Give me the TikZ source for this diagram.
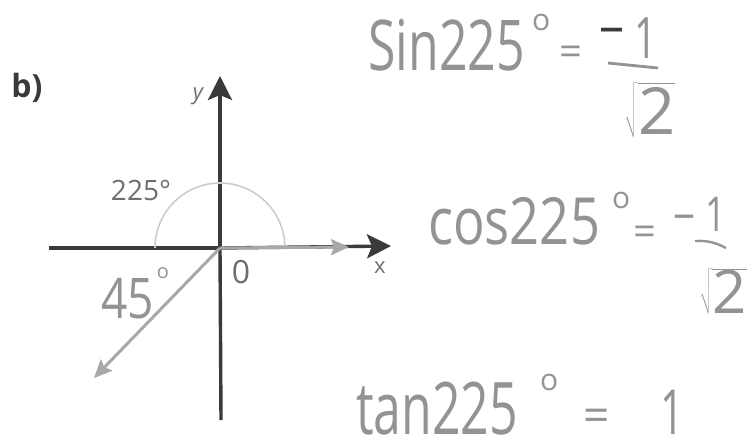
\documentclass[tikz,border=0pt]{standalone}
\usepackage{fontspec}
\usepackage{graphicx}
\setmainfont{Open Sans}
\usetikzlibrary{arrows.meta}
\definecolor{axisc}{HTML}{3A3A3A}
\definecolor{rayc}{HTML}{A8A8A8}
\definecolor{arcc}{HTML}{CDCDCD}
\definecolor{hwc}{HTML}{939393}
\definecolor{lblc}{HTML}{6E6E6E}
\begin{document}
\begin{tikzpicture}[x=1pt,y=-1pt,
  axisline/.style={draw=axisc,line width=3.4pt},
  axis/.style={axisline,-{Stealth[length=24pt,width=24pt,inset=5pt]}},
  ray/.style={draw=rayc,line width=3pt,-{Stealth[length=18pt,width=16pt,inset=3pt]}},
  lbl/.style={text=lblc,inner sep=0pt,font=\fontsize{24}{26}\selectfont},
  hw/.style={text=hwc,inner sep=0pt,anchor=base west,font=\fontsize{50}{52}\selectfont},
  hwc/.style={text=hwc,inner sep=0pt},
  hwsm/.style={text=hwc,inner sep=0pt,font=\fontsize{40}{42}\selectfont}]
\useasboundingbox[fill=white] (0,0) rectangle (753,442);
% axes
\coordinate (O) at (220,248);
\coordinate (yt) at (220,76);
\coordinate (yb) at (221,420);
\coordinate (xl) at (49,248);
\coordinate (xr) at (391,246);
\coordinate (gx) at (349,247);
\coordinate (rt) at (94,378);
\draw[axisline] (O) -- (yb);
\draw[axis] (O) -- (yt);
\draw[axisline] (xl) -- (O);
\draw[axis] (O) -- (xr);
\draw[draw=arcc,line width=1.6pt] (O) ++(-65,0) arc[start angle=180,end angle=360,radius=65];
\draw[ray] (O) -- (gx);
\draw[ray] (O) -- (rt);
% labels
\node[font=\bfseries\fontsize{32}{34}\selectfont,text=axisc,inner sep=0pt] (b) at (27,88) {b)};
\node[lbl,font=\itshape\fontsize{22}{24}\selectfont] (ly) at (198,96) {y};
\node[lbl,font=\fontsize{22}{24}\selectfont] (lx) at (380,268) {x};
\node[lbl,font=\fontsize{32}{34}\selectfont] (l0) at (241,272) {0};
\node[lbl,font=\fontsize{28}{30}\selectfont] (l225) at (141,190) {225°};
\node[hwsm,anchor=base west] (l45) at (101,318) {\scalebox{1.15}[1.4]{45}};
\node[hwc,font=\fontsize{20}{20}\selectfont] (l45d) at (163,273) {o};
% sin
\node[hw] (sin) at (368,70) {\scalebox{1}[1.4]{Sin225}};
\node[hw,font=\fontsize{30}{30}\selectfont] (sdeg) at (532,30) {o};
\node[hwc,font=\fontsize{40}{40}\selectfont] (seq) at (571,56) {=};
\node[text=axisc,inner sep=0pt,font=\fontsize{50}{50}\selectfont] (sm) at (612,36) {–};
\node[hwc,font=\fontsize{44}{44}\selectfont] (s1) at (646,38) {\scalebox{0.9}[1.3]{1}};
\coordinate (sbl) at (608,63);
\coordinate (sbr) at (658,68);
\draw[draw=hwc,line width=2.8pt] (sbl) -- (sbr);
\node[hwc,font=\fontsize{50}{50}\selectfont] (sr) at (650,110) {\scalebox{1.3}[1.3]{$\sqrt{\mbox{2}}$}};
% cos
\node[hw] (cos) at (428,244) {\scalebox{1.05}[1.3]{cos225}};
\node[hw,font=\fontsize{30}{30}\selectfont] (cdeg) at (612,208) {o};
\node[hwc,font=\fontsize{40}{40}\selectfont] (ceq) at (645,236) {=};
\node[hwc,font=\fontsize{44}{44}\selectfont] (cm) at (684,222) {–};
\node[hwc,font=\fontsize{40}{40}\selectfont] (c1) at (716,214) {\scalebox{0.9}[1.2]{1}};
\coordinate (cbl) at (695,241);
\coordinate (cbr) at (726,248);
\draw[draw=hwc,line width=2.4pt] (cbl) to[bend left=15] (cbr);
\node[hwc,font=\fontsize{48}{48}\selectfont] (cr) at (723,291) {\scalebox{1.25}[1.25]{$\sqrt{\mbox{2}}$}};
% tan
\node[hw] (tan) at (356,434) {\scalebox{1}[1.45]{tan225}};
\node[hw,font=\fontsize{30}{30}\selectfont] (tdeg) at (540,390) {o};
\node[hwc,font=\fontsize{46}{46}\selectfont] (teq) at (597,420) {=};
\node[hwc,font=\fontsize{46}{46}\selectfont,anchor=base] (t1) at (672,434) {\scalebox{0.9}[1.35]{1}};
\end{tikzpicture}
\end{document}
